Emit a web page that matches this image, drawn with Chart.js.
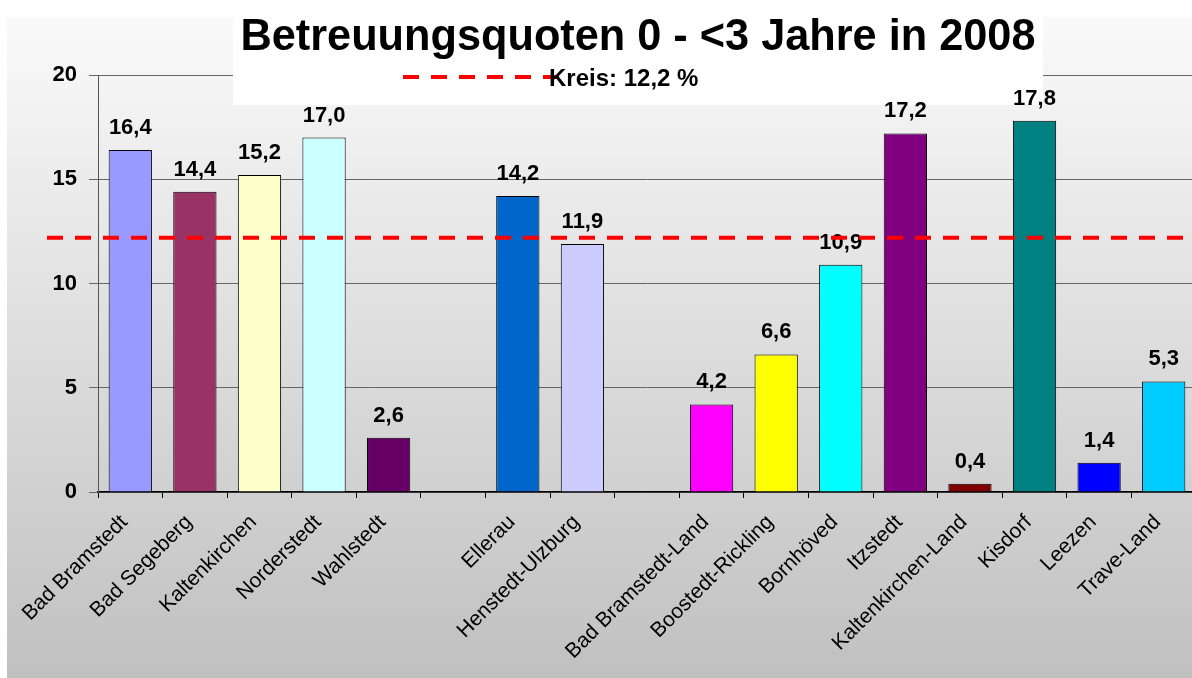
<!DOCTYPE html>
<html>
<head>
<meta charset="utf-8">
<script src="https://cdn.jsdelivr.net/npm/chart.js@4.4.1/dist/chart.umd.min.js"></script>
<style>
    html, body { margin: 0; padding: 0; background: #fff; overflow: hidden; }
    #wrap { width: 1192px; height: 678px; overflow: hidden; }
</style>
</head>
<body>
<div id="wrap"><canvas id="quoten-chart" width="1200" height="678"></canvas></div>
<script>
// Gemeinden (leere Einträge = Lücken zwischen den Gruppen)
const gemeinden = ['Bad Bramstedt', 'Bad Segeberg', 'Kaltenkirchen', 'Norderstedt', 'Wahlstedt', '',
    'Ellerau', 'Henstedt-Ulzburg', '',
    'Bad Bramstedt-Land', 'Boostedt-Rickling', 'Bornhöved', 'Itzstedt', 'Kaltenkirchen-Land',
    'Kisdorf', 'Leezen', 'Trave-Land'];

// Betreuungsquoten in %
const quoten = [16.4, 14.4, 15.2, 17.0, 2.6, null, 14.2, 11.9, null, 4.2, 6.6, 10.9, 17.2, 0.4, 17.8, 1.4, 5.3];

const barColors = ['#9999ff', '#993366', '#ffffcc', '#ccffff', '#660066', '#ffffff',
    '#0066cc', '#ccccff', '#ffffff',
    '#ff00ff', '#ffff00', '#00ffff', '#800080', '#800000', '#008080', '#0000ff', '#00ccff'];

const yTicks = [0, 5, 10, 15, 20];
const kreisQuote = 12.2;

const titel = 'Betreuungsquoten 0 - <3 Jahre in 2008';
const legendText = 'Kreis: 12,2 %';

const fmt = v => v.toFixed(1).replace('.', ',');

// Hintergrund mit Verlauf + weisse Titelbox
const backgroundPlugin = {
    id: 'background',
    beforeDraw(chart) {
        const ctx = chart.ctx;
        ctx.save();
        ctx.fillStyle = '#ffffff';
        ctx.fillRect(0, 0, chart.width, chart.height);
        const grad = ctx.createLinearGradient(0, 17, 0, chart.height);
        grad.addColorStop(0, '#fafafa');
        grad.addColorStop(1, '#c0c0c0');
        ctx.fillStyle = grad;
        ctx.fillRect(7, 17, chart.width - 7, chart.height - 17);
        ctx.restore();
    },
    beforeDatasetsDraw(chart) {
        const ctx = chart.ctx;
        ctx.save();
        ctx.fillStyle = '#ffffff';
        ctx.fillRect(233, 0, 810, 105);
        ctx.restore();
    }
};

// Werte über den Balken + Kreis-Linie
const labelPlugin = {
    id: 'barLabels',
    afterDatasetsDraw(chart) {
        const ctx = chart.ctx;
        const meta = chart.getDatasetMeta(0);
        ctx.save();
        ctx.fillStyle = '#000';
        ctx.font = 'bold 22px "Liberation Sans", Arial, sans-serif';
        ctx.textAlign = 'center';
        ctx.textBaseline = 'alphabetic';
        meta.data.forEach((bar, i) => {
            if (quoten[i] === null) return;
            ctx.fillText(fmt(quoten[i]), bar.x, bar.y - 16);
        });

        // gestrichelte Linie für den Kreiswert
        const y = chart.scales.y.getPixelForValue(kreisQuote);
        ctx.strokeStyle = '#ff0000';
        ctx.lineWidth = 4;
        ctx.setLineDash([16, 12]);
        ctx.beginPath();
        ctx.moveTo(47, y);
        ctx.lineTo(chart.chartArea.right, y);
        ctx.stroke();
        ctx.restore();
    },
    afterDraw(chart) {
        const ctx = chart.ctx;
        ctx.save();
        ctx.fillStyle = '#000';
        ctx.font = 'bold 45px "Liberation Sans", Arial, sans-serif';
        ctx.textAlign = 'center';
        ctx.textBaseline = 'alphabetic';
        ctx.fillText(titel, 638, 50, 795);

        // Legende
        ctx.strokeStyle = '#ff0000';
        ctx.lineWidth = 4;
        ctx.setLineDash([16, 12]);
        ctx.beginPath();
        ctx.moveTo(403, 77);
        ctx.lineTo(562, 77);
        ctx.stroke();
        ctx.font = 'bold 24px "Liberation Sans", Arial, sans-serif';
        ctx.textAlign = 'left';
        ctx.fillText(legendText, 549, 86, 176);
        ctx.restore();
    }
};

const ctxQuoten = document.getElementById('quoten-chart').getContext('2d');
new Chart(ctxQuoten, {
    type: 'bar',
    data: {
        labels: gemeinden,
        datasets: [{
            label: 'Betreuungsquote',
            data: quoten,
            backgroundColor: barColors,
            borderColor: '#000',
            borderWidth: 1,
            categoryPercentage: 1,
            barPercentage: 0.67
        }]
    },
    options: {
        responsive: false,
        devicePixelRatio: 1,
        animation: false,
        layout: { padding: { top: 75, right: 4, left: 0, bottom: 0 } },
        plugins: {
            legend: { display: false },
            title: { display: false },
            tooltip: { enabled: false }
        },
        scales: {
            x: {
                offset: true,
                grid: { display: true, drawOnChartArea: false, drawTicks: true, tickLength: 6, color: '#000', offset: true },
                border: { color: '#000', width: 1.5 },
                ticks: {
                    autoSkip: false,
                    maxRotation: 45,
                    minRotation: 45,
                    padding: 12,
                    labelOffset: -6,
                    color: '#000',
                    font: { family: '"Liberation Sans", Arial, sans-serif', size: 21 }
                },
                afterFit(scale) { scale.height = 186; }
            },
            y: {
                min: 0,
                max: 20,
                afterBuildTicks(scale) { scale.ticks = yTicks.map(v => ({ value: v })); },
                grid: { color: '#666', tickLength: 9 },
                border: { color: '#555' },
                ticks: {
                    padding: 12,
                    color: '#000',
                    font: { family: '"Liberation Sans", Arial, sans-serif', size: 22, weight: 'bold' }
                },
                afterFit(scale) { scale.width = 98; }
            }
        }
    },
    plugins: [backgroundPlugin, labelPlugin]
});
</script>
</body>
</html>
